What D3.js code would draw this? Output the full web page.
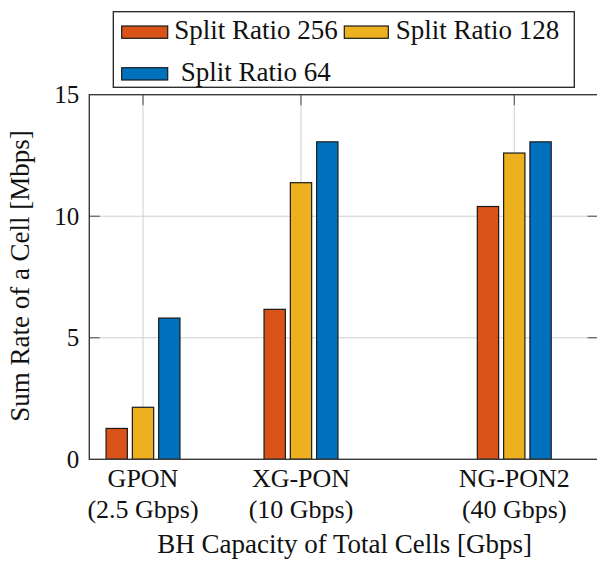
<!DOCTYPE html>
<html>
<head>
<meta charset="utf-8">
<script src="https://cdn.jsdelivr.net/npm/d3@7"></script>
<style>
  html, body { margin: 0; padding: 0; background: #fff; }
  svg { display: block; }
  text { font-family: "Liberation Serif", "Times New Roman", serif; fill: #111; }
</style>
</head>
<body>
<svg id="chart" width="597" height="565"></svg>
<script>
// ---- data ----
const categories = ["GPON", "XG-PON", "NG-PON2"];
const categorySub = ["(2.5 Gbps)", "(10 Gbps)", "(40 Gbps)"];
const xCoords = [1, 2, 3.35];
const seriesNames = ["Split Ratio 256", "Split Ratio 128", "Split Ratio 64"];
const ratio256 = [1.27, 6.17, 10.40];
const ratio128 = [2.14, 11.38, 12.60];
const ratio64 = [5.81, 13.06, 13.06];
const yTicks = [0, 5, 10, 15];
const xTitle = "BH Capacity of Total Cells [Gbps]";
const yTitle = "Sum Rate of a Cell [Mbps]";

const series = [ratio256, ratio128, ratio64];
const colors = ["#D95319", "#EDB120", "#0072BD"];

// ---- layout ----
const svg = d3.select("#chart");
const L = 89.3, R = 598, T = 94.7, B = 459.3;

const x = d3.scaleLinear().domain([0.66, 3.88]).range([L, R]);
const y = d3.scaleLinear().domain([0, 15]).range([B, T]);

const barW = 21.3, step = 26.3;

// grid
const grid = svg.append("g");
grid.selectAll("line.gx").data(xCoords).join("line")
  .attr("x1", d => x(d)).attr("x2", d => x(d))
  .attr("y1", T).attr("y2", B)
  .attr("stroke", "#cfcfcf").attr("stroke-width", 1);
grid.selectAll("line.gy").data([5, 10]).join("line")
  .attr("x1", L).attr("x2", R)
  .attr("y1", d => y(d)).attr("y2", d => y(d))
  .attr("stroke", "#cfcfcf").attr("stroke-width", 1);

// inner ticks
const tickLen = 10.5;
const ticks = svg.append("g").attr("stroke", "#555").attr("stroke-width", 1.1);
[5, 10].forEach(v => {
  ticks.append("line").attr("x1", L).attr("x2", L + tickLen).attr("y1", y(v)).attr("y2", y(v));
  ticks.append("line").attr("x1", R - tickLen).attr("x2", R).attr("y1", y(v)).attr("y2", y(v));
});
xCoords.forEach(v => {
  ticks.append("line").attr("x1", x(v)).attr("x2", x(v)).attr("y1", T).attr("y2", T + tickLen);
  ticks.append("line").attr("x1", x(v)).attr("x2", x(v)).attr("y1", B).attr("y2", B - tickLen);
});

// bars
series.forEach((vals, si) => {
  svg.append("g").selectAll("rect").data(vals).join("rect")
    .attr("x", (d, i) => x(xCoords[i]) + (si - 1) * step - barW / 2)
    .attr("width", barW)
    .attr("y", d => y(d))
    .attr("height", d => y(0) - y(d))
    .attr("fill", colors[si])
    .attr("stroke", "#1a1a1a")
    .attr("stroke-width", 1.2);
});

// frame
svg.append("rect")
  .attr("x", L).attr("y", T).attr("width", R - L).attr("height", B - T)
  .attr("fill", "none").attr("stroke", "#3a3a3a").attr("stroke-width", 1.4);

// y tick labels
svg.append("g").selectAll("text").data(yTicks).join("text")
  .attr("x", L - 10).attr("y", d => y(d))
  .attr("dy", "0.34em")
  .attr("text-anchor", "end")
  .attr("font-size", 25)
  .text(d => d);

// x tick labels
const xl = svg.append("g");
xl.selectAll("text.c").data(categories).join("text")
  .attr("x", (d, i) => x(xCoords[i])).attr("y", 487)
  .attr("text-anchor", "middle").attr("font-size", 26)
  .text(d => d);
xl.selectAll("text.s").data(categorySub).join("text")
  .attr("x", (d, i) => x(xCoords[i])).attr("y", 518)
  .attr("text-anchor", "middle").attr("font-size", 26)
  .text(d => d);

// axis titles
svg.append("text")
  .attr("x", (L + R) / 2 + 1).attr("y", 553)
  .attr("text-anchor", "middle").attr("font-size", 27)
  .text(xTitle);
svg.append("text")
  .attr("transform", `translate(28.5, ${(T + B) / 2 - 1}) rotate(-90)`)
  .attr("text-anchor", "middle").attr("font-size", 27)
  .text(yTitle);

// legend
const lg = svg.append("g");
lg.append("rect").attr("x", 113.3).attr("y", 11.7).attr("width", 461).attr("height", 75.6)
  .attr("fill", "#fff").attr("stroke", "#222").attr("stroke-width", 1.3);
const legendItems = [
  { px: 121.7, pw: 46, py: 26, tx: 174.3, ty: 39 },
  { px: 344.3, pw: 44, py: 26, tx: 395.7, ty: 39 },
  { px: 121.7, pw: 46, py: 67.7, tx: 180.7, ty: 81 }
];
legendItems.forEach((it, i) => {
  lg.append("rect").attr("x", it.px).attr("y", it.py).attr("width", it.pw).attr("height", 12.3)
    .attr("fill", colors[i]).attr("stroke", "#1a1a1a").attr("stroke-width", 1.2);
  lg.append("text").attr("x", it.tx).attr("y", it.ty).attr("font-size", 27).text(seriesNames[i]);
});
</script>
</body>
</html>
